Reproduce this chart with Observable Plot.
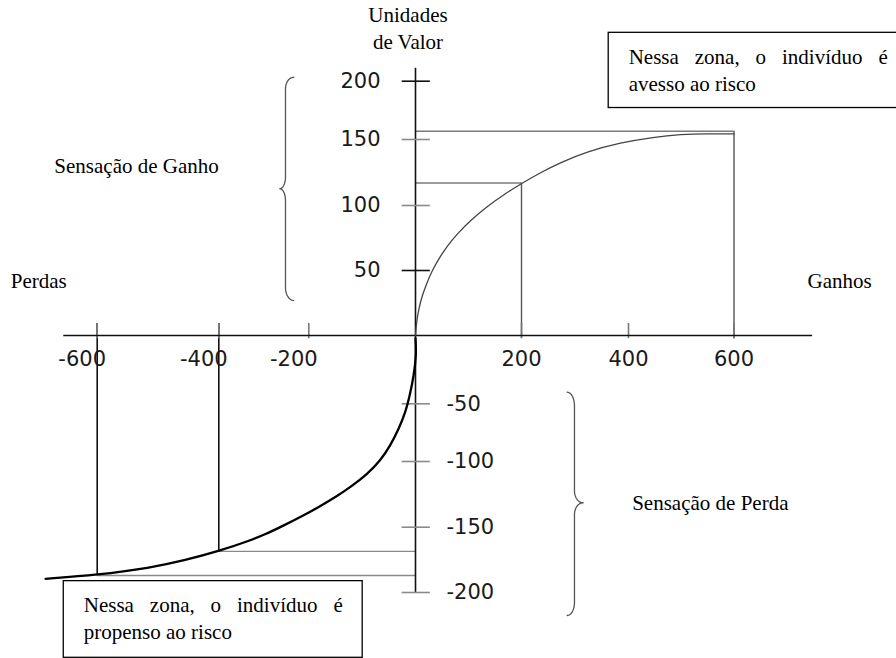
<!DOCTYPE html>
<html><head><meta charset="utf-8">
<script src="https://cdn.jsdelivr.net/npm/d3@7"></script>
<script src="https://cdn.jsdelivr.net/npm/@observablehq/plot@0.6"></script>
<style>body{margin:0;background:#fff}</style>
</head><body><div id="chart"></div>
<script>
// ---- Tick values ----
const xTicks = [-600, -400, -200, 200, 400, 600];
const yTicks = [200, 150, 100, 50, -50, -100, -150, -200];

// ---- Value function ----
const gainX = [0, 1.9, 6.2, 12.6, 22.1, 31.5, 44, 59.8, 78.7, 103.8, 135.3, 166.6, 200, 235.5, 272.9, 322.8, 385, 448, 499, 550, 600];
const gainY = [0, 10.2, 20.5, 30.8, 41, 50, 59, 68.9, 78.2, 88.6, 99.4, 108.2, 116.7, 124.9, 132.6, 140.9, 147.6, 152.1, 154.4, 155, 154.8];
const lossX = [0, 1.5, -3.2, -10.7, -18.7, -31.3, -46.9, -65.6, -90.5, -121.8, -146.7, -184.3, -211.1, -255.6, -300, -329.6, -400, -457.4, -512.3, -600, -685];
const lossY = [-2, -14.6, -29.3, -43.9, -57.3, -71.7, -86.1, -99.1, -109.7, -119.4, -126.3, -135.4, -140.9, -148.7, -156, -160, -168.4, -175.5, -181.1, -186.6, -189.5];

// ---- Reference points (guides) ----
const gainRefX = [200, 600];
const gainRefY = [117, 157];
const lossRefX = [-400, -600];
const lossRefY = [-168.5, -187];

// ---- Axis extents (data units) ----
const xAxisExtent = [-655, 749];
const yAxisExtent = [-200, 211];

// ---- Texts ----
const axisTitle = "Unidades\nde Valor";
const sideLabels = ["Perdas", "Ganhos"];
const braceLabels = ["Sensação de Ganho", "Sensação de Perda"];
const boxTexts = ["Nessa zona, o indivíduo é\navesso ao risco", "Nessa zona, o indivíduo é\npropenso ao risco"];

// ---- Annotation extents (data units) ----
const boxX1 = [363, -655];
const boxX2 = [920, -99];
const boxY1 = [177, -250];
const boxY2 = [241.5, -191.3];

const braceStem = [-251.8, 299];
const braceEnd = [-233.3, 285.4];
const braceTip = [-264.4, 315.3];
const braceTop = [203.4, -41.5];
const braceBot = [26.9, -217.6];
const braceMid = [112.7, -131.4];

// ---- build tables ----
const gain = gainX.map((x, i) => ({x, y: gainY[i]}));
const loss = lossX.map((x, i) => ({x, y: lossY[i]}));
const gainRef = gainRefX.map((x, i) => ({x, y: gainRefY[i]}));
const lossRef = lossRefX.map((x, i) => ({x, y: lossRefY[i]}));
const boxes = boxTexts.map((t, i) => ({text: t, x1: boxX1[i], x2: boxX2[i], y1: boxY1[i], y2: boxY2[i]}));

function brace(i, r, rt) {
  const xs = braceStem[i], xe = braceEnd[i], xt = braceTip[i];
  const yT = braceTop[i], yB = braceBot[i], yM = braceMid[i];
  const pts = [], N = 14, H = Math.PI / 2;
  for (let k = 0; k <= N; k++) { const t = k / N * H; pts.push({x: xe + (xs - xe) * Math.sin(t), y: yT - r + r * Math.cos(t)}); }
  for (let k = 0; k <= N; k++) { const t = k / N * H; pts.push({x: xt + (xs - xt) * Math.cos(t), y: yM + rt - rt * Math.sin(t)}); }
  for (let k = 0; k <= N; k++) { const t = k / N * H; pts.push({x: xt + (xs - xt) * Math.sin(t), y: yM - rt + rt * Math.cos(t)}); }
  for (let k = 0; k <= N; k++) { const t = k / N * H; pts.push({x: xe + (xs - xe) * Math.cos(t), y: yB + r - r * Math.sin(t)}); }
  return pts;
}

// the drawing's axes are unevenly spaced: piecewise-linear warps applied by the scales
const xWarp = d3.scaleLinear().domain([-600, -400, -200, 0, 200, 400, 600]).range([96.7, 218.3, 308.3, 415, 521, 628, 733.5]);
const yWarp = d3.scaleLinear().domain([-200, -150, -100, -50, 0, 50, 100, 150, 200]).range([592, 526.7, 461, 403.3, 335, 270, 205, 139, 80.7]);

const serif = "Liberation Serif, Times New Roman, serif";
const sans = "DejaVu Sans, Arial, sans-serif";

const plot = Plot.plot({
  width: 896,
  height: 658,
  style: {background: "white"},
  x: {transform: v => xWarp(v), domain: [0, 896], range: [0, 896], axis: null},
  y: {transform: v => yWarp(v), domain: [0, 658], range: [0, 658], axis: null},
  marks: [
    Plot.rect(boxes, {x1: "x1", x2: "x2", y1: "y1", y2: "y2", fill: "white", stroke: "black", strokeWidth: 1.3}),
    // guides
    Plot.ruleY(gainRef, {y: "y", x1: () => 0, x2: "x", stroke: "#7a7a7a", strokeWidth: 1.5}),
    Plot.ruleX(gainRef, {x: "x", y1: () => -2.3, y2: "y", stroke: "#555", strokeWidth: 1.4}),
    Plot.ruleY(lossRef, {y: "y", x1: "x", x2: () => 0, stroke: "#8a8a8a", strokeWidth: 1.4}),
    Plot.ruleX(lossRef, {x: "x", y1: () => 9.2, y2: "y", stroke: "#111", strokeWidth: 1.6}),
    // x ticks
    Plot.ruleX(xTicks, {x: d => d, y1: () => -2.3, y2: () => 9.2, stroke: "#777", strokeWidth: 1.6}),
    // axes
    Plot.ruleY([0], {y: d => d, x1: () => xAxisExtent[0], x2: () => xAxisExtent[1], stroke: "#111", strokeWidth: 1.6}),
    Plot.ruleX([0], {x: d => d, y1: () => yAxisExtent[0], y2: () => yAxisExtent[1], stroke: "#111", strokeWidth: 1.6}),
    // y ticks
    Plot.ruleY(yTicks, {y: d => d, x1: () => -25, x2: () => 28, stroke: d => (d === 200 || d === 50) ? "#111" : "#8a8a8a", strokeWidth: 1.6}),
    // curves
    Plot.line(gain, {x: "x", y: "y", curve: "basis", stroke: "#444", strokeWidth: 1.3}),
    Plot.line(loss, {x: "x", y: "y", curve: "basis", stroke: "#000", strokeWidth: 2.3}),
    // braces
    Plot.line(brace(0, 10, 9), {x: "x", y: "y", stroke: "#555", strokeWidth: 1.3}),
    Plot.line(brace(1, 10, 9), {x: "x", y: "y", stroke: "#555", strokeWidth: 1.3}),
    // tick labels
    Plot.text(xTicks.filter(d => d < 0), {x: d => d, y: () => 0, text: d => String(d), dx: -15, dy: 23.7, lineAnchor: "middle", fontFamily: sans, fontSize: 21, fill: "#1a1a1a"}),
    Plot.text(xTicks.filter(d => d > 0), {x: d => d, y: () => 0, text: d => String(d), dx: 0, dy: 23.7, lineAnchor: "middle", fontFamily: sans, fontSize: 21, fill: "#1a1a1a"}),
    Plot.text(yTicks.filter(d => d > 0), {x: () => 0, y: d => d, text: d => String(d), dx: -35, textAnchor: "end", lineAnchor: "middle", fontFamily: sans, fontSize: 21, fill: "#1a1a1a"}),
    Plot.text(yTicks.filter(d => d < 0), {x: () => 0, y: d => d, text: d => String(d), dx: 31, textAnchor: "start", lineAnchor: "middle", fontFamily: sans, fontSize: 21, fill: "#1a1a1a"}),
    // axis title
    Plot.text([axisTitle], {x: () => 0, y: () => yAxisExtent[1], text: d => d, dx: -7.5, dy: -19, textAnchor: "middle", lineAnchor: "bottom", lineHeight: 1.286, fontFamily: serif, fontSize: 21, fill: "black"}),
    // side labels
    Plot.text([sideLabels[0]], {x: () => xAxisExtent[0], y: () => 0, text: d => d, dx: 3, dy: -48, textAnchor: "end", lineAnchor: "bottom", fontFamily: serif, fontSize: 21, fill: "black"}),
    Plot.text([sideLabels[1]], {x: () => xAxisExtent[1], y: () => 0, text: d => d, dx: -5, dy: -48, textAnchor: "start", lineAnchor: "bottom", fontFamily: serif, fontSize: 21, fill: "black"}),
    // brace labels
    Plot.text([braceLabels[0]], {x: () => braceTip[0], y: () => braceMid[0], text: d => d, dx: -61, dy: -16, textAnchor: "end", lineAnchor: "bottom", fontFamily: serif, fontSize: 21, fill: "black"}),
    Plot.text([braceLabels[1]], {x: () => braceTip[1], y: () => braceMid[1], text: d => d, dx: 49, dy: 7, textAnchor: "start", lineAnchor: "bottom", fontFamily: serif, fontSize: 21, fill: "black"}),
    // box texts
    Plot.text(boxes, {x: "x1", y: "y2", text: "text", dx: 20, dy: 58, textAnchor: "start", lineAnchor: "bottom", lineHeight: 1.3, fontFamily: serif, fontSize: 21, fill: "black"})
  ]
});

document.getElementById("chart").appendChild(plot);

// justify the first line of each box text
const justifyWidth = 259;
d3.select(plot).selectAll("tspan").each(function () {
  if (this.textContent.startsWith("Nessa")) {
    const len = this.getComputedTextLength();
    const spaces = (this.textContent.match(/ /g) || []).length;
    if (spaces > 0) this.style.wordSpacing = ((justifyWidth - len) / spaces) + "px";
  }
});
</script>
</body></html>
